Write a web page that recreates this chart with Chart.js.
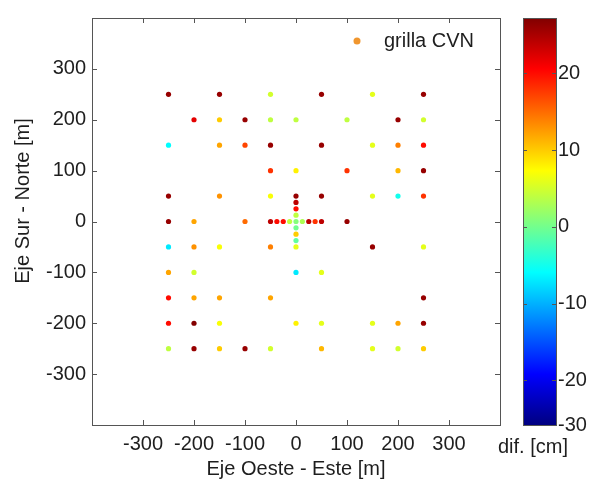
<!DOCTYPE html>
<html>
<head>
<meta charset="utf-8">
<script src="https://cdn.jsdelivr.net/npm/chart.js@4.4.1/dist/chart.umd.min.js"></script>
<style>
  html, body { margin: 0; padding: 0; background: #fff; }
  #wrap { width: 595px; height: 484px; }
</style>
</head>
<body>
<div id="wrap"><canvas id="cvn" width="595" height="484"></canvas></div>
<script>
// CVN grid stations (m east / m north of the centre) and their difference in cm
const gridX = [
  -250, -150, -50, 50, 150, 250,
  -200, -150, -100, -50, 0, 100, 200, 250,
  -250, -150, -100, -50, 50, 150, 200, 250,
  -50, 0, 100, 200, 250,
  -250, -150, -50, 50, 150, 200, 250,
  -250, -200, -100, 100,
  -250, -200, -150, -50, 150, 250,
  -250, -200, 0, 50,
  -250, -200, -150, -50, 250,
  -250, -200, -150, 0, 50, 150, 200, 250,
  -250, -200, -150, -100, -50, 50, 150, 200, 250
];
const gridY = [
  250, 250, 250, 250, 250, 250,
  200, 200, 200, 200, 200, 200, 200, 200,
  150, 150, 150, 150, 150, 150, 150, 150,
  100, 100, 100, 100, 100,
  50, 50, 50, 50, 50, 50, 50,
  0, 0, 0, 0,
  -50, -50, -50, -50, -50, -50,
  -100, -100, -100, -100,
  -150, -150, -150, -150, -150,
  -200, -200, -200, -200, -200, -200, -200, -200,
  -250, -250, -250, -250, -250, -250, -250, -250, -250
];
const gridDif = [
  26, 26, 5, 26, 6, 26,
  22, 10, 26, 4, 4, 4, 26, 5,
  -6, 12, 17, 26, 26, 6, 14, 20,
  18, 8, 18, 11, 26,
  26, 13, 7, 26, 6, -5, 18,
  26, 12, 15, 26,
  -7, 13, 7, 14, 26, 6,
  12, 5, -7, 6,
  20, 12, 12, 12, 26,
  20, 27, 7, 8, 6, 6, 12, 26,
  4, 26, 10, 26, 5, 11, 6, 5, 10
];

// dense cross around the centre
const centreX = [-50, -37.5, -25, -12.5, 0, 12.5, 25, 37.5, 50, 0, 0, 0, 0, 0, 0, 0, 0];
const centreY = [0, 0, 0, 0, 0, 0, 0, 0, 0, 50, 37.5, 25, 12.5, -12.5, -25, -37.5, -50];
const centreDif = [24, 20, 20, 4, 1, 3, 24, 18, 24, 26, 24, 20, 4, 0, 10, -1, 6];

const axisTicks = [-300, -200, -100, 0, 100, 200, 300];
const colorbarTicks = [20, 10, 0, -10, -20];
const colorbarBottomLabel = "-30";
const difMin = -25.8;
const difMax = 27.2;

const FONT = "'Liberation Sans', Arial, sans-serif";
const TEXT = "#1e1e1e";

function jetAt(t) {
    t = Math.min(1, Math.max(0, t));
    const c = (k) => Math.round(255 * Math.min(1, Math.max(0, 1.5 - Math.abs(4 * t - k))));
    return `rgb(${c(3)},${c(2)},${c(1)})`;
}

function jet(v) {
    return jetAt((v - difMin) / (difMax - difMin));
}

const points = gridX.concat(centreX).map((x, i) => ({
    x: x,
    y: gridY.concat(centreY)[i],
    v: gridDif.concat(centreDif)[i],
}));

// frame, inward ticks, legend, colorbar and extra labels
const decorations = {
    id: "decorations",
    beforeDatasetsDraw(chart) {
        const { ctx, scales } = chart;
        const cb = scales.cb;
        const bx = 523, bw = 33;
        ctx.save();
        const grad = ctx.createLinearGradient(0, cb.bottom, 0, cb.top);
        for (let s = 0; s <= 8; s++) grad.addColorStop(s / 8, jetAt(s / 8));
        ctx.fillStyle = grad;
        ctx.fillRect(bx, cb.top, bw, cb.bottom - cb.top);
        ctx.strokeStyle = "#555";
        ctx.lineWidth = 1;
        ctx.strokeRect(bx + 0.5, cb.top + 0.5, bw, cb.bottom - cb.top);
        ctx.beginPath();
        colorbarTicks.forEach((t) => {
            const py = Math.round(cb.getPixelForValue(t)) + 0.5;
            ctx.moveTo(bx, py);
            ctx.lineTo(bx + 4, py);
            ctx.moveTo(bx + bw, py);
            ctx.lineTo(bx + bw - 4, py);
        });
        ctx.stroke();
        ctx.restore();
    },
    afterDraw(chart) {
        const { ctx, chartArea: a, scales } = chart;
        ctx.save();

        // axes box
        ctx.strokeStyle = "#555";
        ctx.lineWidth = 1;
        ctx.strokeRect(a.left + 0.5, a.top + 0.5, a.right - a.left, a.bottom - a.top);

        ctx.beginPath();
        axisTicks.forEach((t) => {
            const px = Math.round(scales.x.getPixelForValue(t)) + 0.5;
            ctx.moveTo(px, a.bottom);
            ctx.lineTo(px, a.bottom - 5);
            ctx.moveTo(px, a.top);
            ctx.lineTo(px, a.top + 5);
            const py = Math.round(scales.y.getPixelForValue(t)) + 0.5;
            ctx.moveTo(a.left, py);
            ctx.lineTo(a.left + 5, py);
            ctx.moveTo(a.right, py);
            ctx.lineTo(a.right - 5, py);
        });
        ctx.stroke();

        // legend
        ctx.fillStyle = "#f0962e";
        ctx.beginPath();
        ctx.arc(357, 41, 3.5, 0, Math.PI * 2);
        ctx.fill();
        ctx.fillStyle = TEXT;
        ctx.font = `20px ${FONT}`;
        ctx.textBaseline = "middle";
        ctx.textAlign = "left";
        ctx.fillText("grilla CVN", 384, 41);

        // y axis title
        ctx.save();
        ctx.translate(23, 201);
        ctx.rotate(-Math.PI / 2);
        ctx.textAlign = "center";
        ctx.fillText("Eje Sur - Norte [m]", 0, 0);
        ctx.restore();

        ctx.textAlign = "left";
        ctx.fillText("dif. [cm]", 498, 447);
        ctx.restore();
    },
};

new Chart(document.getElementById("cvn"), {
    type: "scatter",
    data: {
        datasets: [
            {
                label: "grilla CVN",
                data: points,
                pointRadius: 2.6,
                pointHoverRadius: 2.6,
                borderWidth: 0,
                backgroundColor: (c) => (c.raw ? jet(c.raw.v) : "#f0962e"),
            },
        ],
    },
    options: {
        responsive: false,
        animation: false,
        layout: { padding: { top: 14, left: 0, right: 0, bottom: 0 } },
        plugins: {
            legend: { display: false },
            tooltip: { enabled: false },
        },
        scales: {
            x: {
                type: "linear",
                min: -400,
                max: 400,
                grid: { display: false, drawTicks: false },
                border: { display: false },
                afterBuildTicks: (s) => { s.ticks = axisTicks.map((v) => ({ value: v })); },
                afterFit: (s) => { s.height = 59; },
                ticks: {
                    autoSkip: false,
                    maxRotation: 0,
                    padding: 7,
                    color: TEXT,
                    font: { family: FONT, size: 20 },
                },
                title: {
                    display: true,
                    text: "Eje Oeste - Este [m]",
                    color: TEXT,
                    font: { family: FONT, size: 20 },
                    padding: { top: 0, bottom: 3 },
                },
            },
            y: {
                type: "linear",
                position: "left",
                min: -400,
                max: 400,
                grid: { display: false, drawTicks: false },
                border: { display: false },
                afterBuildTicks: (s) => { s.ticks = axisTicks.map((v) => ({ value: v })); },
                afterFit: (s) => { s.width = 92; },
                ticks: {
                    autoSkip: false,
                    padding: 6,
                    color: TEXT,
                    font: { family: FONT, size: 20 },
                },
            },
            cb: {
                type: "linear",
                position: "right",
                min: difMin,
                max: difMax,
                // invisible tick marks push the labels past the colour bar
                grid: {
                    display: true,
                    drawOnChartArea: false,
                    drawTicks: true,
                    tickLength: 56,
                    color: "rgba(0,0,0,0)",
                },
                border: { display: false },
                afterBuildTicks: (s) => {
                    s.ticks = colorbarTicks.concat([difMin]).map((v) => ({ value: v }));
                },
                afterFit: (s) => { s.width = 95; },
                ticks: {
                    autoSkip: false,
                    padding: 2,
                    color: TEXT,
                    font: { family: FONT, size: 20 },
                    callback: (v) => (v === difMin ? colorbarBottomLabel : String(v)),
                },
            },
        },
    },
    plugins: [decorations],
});
</script>
</body>
</html>
